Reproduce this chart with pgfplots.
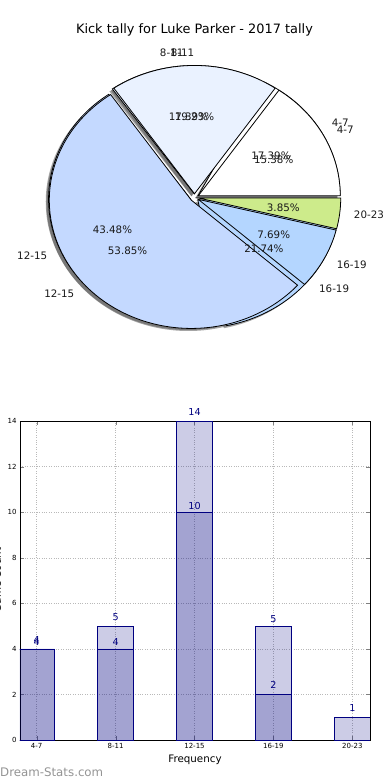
\documentclass[border=0pt]{standalone}
\usepackage{fontspec}
\setmainfont{DejaVu Sans}
\usepackage{pgfplots}
\usepackage{pgfplotstable}
\pgfplotsset{compat=1.18}
\pgfkeys{/pgf/number format/assume math mode=true}
\definecolor{navy}{RGB}{0,0,128}
\definecolor{cA}{RGB}{255,255,255}
\definecolor{cB}{RGB}{234,242,255}
\definecolor{cC}{RGB}{196,217,255}
\definecolor{cD}{RGB}{180,214,255}
\definecolor{cE}{RGB}{205,235,139}

% counts per category: a = first series, b = second series
\pgfplotstableread{
label a b
4-7 4 4
8-11 4 5
12-15 10 14
16-19 5 2
20-23 0 1
}\kickdata

\newcommand\piefont{\fontsize{10.3}{12}\selectfont}
\newcommand\piepass[2]{%
  \gdef\pietot{0}%
  \foreach \ri in {0,...,4}{%
    \pgfplotstablegetelem{\ri}{#1}\of\kickdata
    \pgfmathsetmacro\tmpv{\pietot+\pgfplotsretval}\xdef\pietot{\tmpv}}%
  \gdef\piecum{0}%
  \foreach \ri/\col in {0/cA,1/cB,2/cC,3/cD,4/cE}{%
    \pgfplotstablegetelem{\ri}{#1}\of\kickdata
    \let\pval\pgfplotsretval
    \pgfplotstablegetelem{\ri}{label}\of\kickdata
    \let\lab\pgfplotsretval
    \pgfmathsetmacro\angA{360*\piecum/\pietot}%
    \pgfmathsetmacro\angB{360*(\piecum+\pval)/\pietot}%
    \pgfmathsetmacro\mm{(\angA+\angB)/2}%
    \pgfmathsetmacro\ox{0.03*cos(\mm)}%
    \pgfmathsetmacro\oy{0.03*sin(\mm)}%
    \ifdim\pval pt>0pt
      \ifcase#2
        \pgfmathsetmacro\sx{\ox-0.02}\pgfmathsetmacro\sy{\oy-0.02}%
        \pgfmathsetmacro\px{\sx+cos(\angA)}\pgfmathsetmacro\py{\sy+sin(\angA)}%
        \fill[black!70, fill opacity=0.5] (axis cs:\sx,\sy) -- (axis cs:\px,\py)
          arc[start angle=\angA, end angle=\angB, x radius=142pt, y radius=128.3pt] -- cycle;
      \or
        \pgfmathsetmacro\px{\ox+cos(\angA)}\pgfmathsetmacro\py{\oy+sin(\angA)}%
        \filldraw[fill=\col, draw=black, line width=0.8pt] (axis cs:\ox,\oy) -- (axis cs:\px,\py)
          arc[start angle=\angA, end angle=\angB, x radius=142pt, y radius=128.3pt] -- cycle;
      \or
        \pgfmathsetmacro\lx{\ox+1.1*cos(\mm)}\pgfmathsetmacro\ly{\oy+1.1*sin(\mm)}%
        \pgfmathsetmacro\qx{\ox+0.6*cos(\mm)}\pgfmathsetmacro\qy{\oy+0.6*sin(\mm)}%
        \pgfmathsetmacro\cosm{cos(\mm)}%
        \ifdim\cosm pt>0.001pt \def\anc{west}\else\def\anc{east}\fi
        \node[anchor=\anc, font=\piefont, inner sep=0pt, text=black!90] at (axis cs:\lx,\ly) {\lab};
        \pgfmathsetmacro\pct{100*\pval/\pietot}%
        \node[font=\piefont, inner sep=0pt, text=black!90] at (axis cs:\qx,\qy) {\pgfmathprintnumber[fixed,fixed zerofill,precision=2]{\pct}\%};
      \fi
    \fi
    \pgfmathsetmacro\tmpv{\piecum+\pval}\xdef\piecum{\tmpv}%
  }%
}

\begin{document}
\begin{tikzpicture}
\path[use as bounding box] (0,0) rectangle (390pt,780pt);
\node[font=\fontsize{12.9}{15}\selectfont] at (194.5pt,750pt) {Kick tally for Luke Parker - 2017 tally};

\begin{axis}[hide axis, x=142pt, y=128.3pt, xmin=-1.4, xmax=1.4, ymin=-1.3, ymax=1.3,
  at={(194.5pt,582.4pt)}, anchor=center, clip=false]
\addplot[draw=none] coordinates {(0,0)};
\pgfplotsextra{\piepass{a}{0}\piepass{b}{0}\piepass{a}{1}\piepass{b}{1}\piepass{a}{2}\piepass{b}{2}}
\end{axis}

\begin{axis}[at={(20pt,40pt)}, anchor=south west, width=350pt, height=318.7pt, scale only axis,
  xmin=-0.2117, xmax=4.224, ymin=0, ymax=14,
  xtick={0,...,4}, xticklabels from table={\kickdata}{label},
  ytick={0,2,...,14},
  tick label style={font=\fontsize{7}{8}\selectfont},
  tick align=inside, major tick length=4pt,
  grid=major, major grid style={gray!55, dotted, line width=0.7pt},
  axis line style={line width=0.8pt},
  xlabel={Frequency}, xlabel style={font=\fontsize{10.3}{12}\selectfont, at={(axis description cs:0.5,0)}, anchor=center, yshift=-20pt},
]
\addplot[ybar, bar width=0.456, bar shift=0pt, fill=navy, fill opacity=0.2, draw=navy, line width=0.7pt,
  nodes near coords, every node near coord/.append style={anchor=center, yshift=6.7pt, text=navy, text opacity=1, font=\fontsize{9.6}{11}\selectfont},
  skip coords between index={4}{5}]
  table[x expr=\coordindex, y=a]{\kickdata};
\addplot[ybar, bar width=0.456, bar shift=0pt, fill=navy, fill opacity=0.2, draw=navy, line width=0.7pt,
  nodes near coords, every node near coord/.append style={anchor=center, yshift=9.3pt, text=navy, text opacity=1, font=\fontsize{9.6}{11}\selectfont}]
  table[x expr=\coordindex, y=b]{\kickdata};
\end{axis}

\node[rotate=90, anchor=base, font=\fontsize{10.3}{12}\selectfont] at (1pt,200pt) {Game Count};
\node[anchor=west, inner sep=0pt, font=\fontsize{11.8}{14}\selectfont, text=black!42] at (0pt,7.5pt) {Dream-Stats.com};
\end{tikzpicture}
\end{document}
